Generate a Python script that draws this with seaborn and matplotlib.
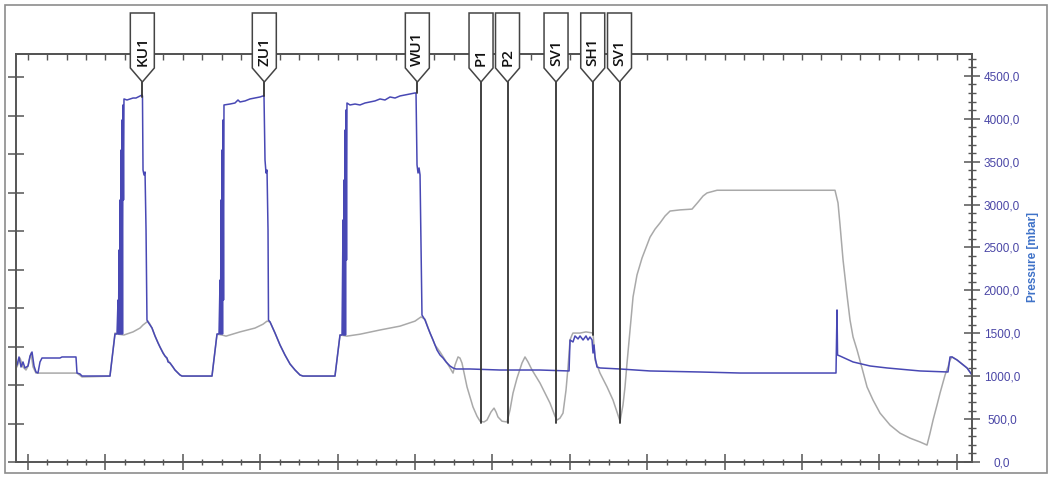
import numpy as np
import pandas as pd
import matplotlib
matplotlib.use("Agg")
import matplotlib.pyplot as plt
import matplotlib.transforms as mtransforms
from matplotlib.patches import Polygon, Rectangle
from matplotlib.ticker import FixedLocator, FuncFormatter
import seaborn as sns

# ---------------- data (time in minutes) ----------------
blue_t = [-0.142, -0.116, -0.090, -0.065, -0.039, 0.000, 0.026, 0.052, 0.078, 0.103, 0.129, 0.155, 0.181,
          0.284, 0.413, 0.439, 0.620, 0.633, 0.672, 0.698, 1.034, 1.059, 1.124, 1.150,
          1.163, 1.169, 1.176, 1.182, 1.189, 1.195, 1.202, 1.208, 1.214, 1.221, 1.227, 1.234, 1.240,
          1.279, 1.318, 1.357, 1.395, 1.421, 1.447, 1.473, 1.479, 1.486, 1.499, 1.512, 1.525, 1.537,
          1.550, 1.576, 1.602, 1.641, 1.680, 1.705, 1.744, 1.770, 1.796, 1.809, 1.835, 1.873, 1.899,
          1.925, 1.964, 1.990, 2.351, 2.377, 2.442, 2.468,
          2.481, 2.487, 2.494, 2.500, 2.506, 2.513, 2.519, 2.526, 2.532,
          2.610, 2.674, 2.713, 2.739, 2.804, 2.868, 2.933, 2.997, 3.036, 3.049, 3.062, 3.075, 3.088,
          3.101, 3.107, 3.127, 3.191, 3.256, 3.320, 3.385, 3.450, 3.514, 3.553, 3.941, 3.966, 4.031, 4.057,
          4.070, 4.076, 4.083, 4.089, 4.096, 4.102, 4.109, 4.115, 4.121,
          4.160, 4.225, 4.289, 4.354, 4.419, 4.483, 4.548, 4.612, 4.677, 4.742, 4.806, 4.871, 4.935,
          5.000, 5.013, 5.026, 5.039, 5.052, 5.065, 5.078, 5.090, 5.129, 5.168, 5.194, 5.233, 5.284,
          5.323, 5.362, 5.401, 5.452, 5.491, 5.530, 5.711, 6.098, 6.615, 6.990, 7.003, 7.041, 7.067,
          7.106, 7.132, 7.171, 7.209, 7.235, 7.261, 7.287, 7.300, 7.313, 7.326, 7.351, 7.390, 7.649,
          8.036, 8.682, 9.199, 9.974, 10.439, 10.452, 10.459, 10.491, 10.659, 10.879, 11.098, 11.525,
          11.886, 11.912, 11.938, 12.003, 12.067, 12.132, 12.196]
blue_p = [1130, 1224, 1107, 1166, 1096, 1119, 1235, 1282, 1119, 1049, 1037, 1166, 1212,
          1212, 1212, 1224, 1224, 1037, 1026, 1002, 1002, 1002, 1492, 1492,
          1888, 1492, 2471, 1492, 3054, 1492, 3636, 1492, 3986, 1492, 4161, 3054, 4231,
          4219, 4231, 4242, 4242, 4254, 4266, 4277, 4266, 3403, 3345, 3380, 2704, 1655,
          1632, 1597, 1562, 1469, 1387, 1340, 1270, 1235, 1212, 1166, 1154, 1107, 1072,
          1049, 1014, 1002, 1002, 1002, 1492, 1492,
          2121, 1492, 3054, 1492, 3636, 1492, 3986, 1888, 4161,
          4172, 4184, 4219, 4196, 4208, 4231, 4242, 4254, 4266, 4266, 3520, 3368, 3403,
          2704, 1655, 1632, 1504, 1364, 1247, 1142, 1072, 1014, 1002, 1002, 1002, 1480, 1480,
          2821, 1480, 3287, 1480, 3869, 1480, 4103, 2354, 4184,
          4161, 4172, 4161, 4184, 4196, 4208, 4231, 4219, 4254, 4242, 4266, 4277, 4289,
          4301, 4301, 3462, 3368, 3427, 3345, 2471, 1713, 1655, 1562, 1504, 1422, 1305,
          1247, 1212, 1166, 1119, 1096, 1084, 1084, 1072, 1072, 1061, 1422, 1399, 1469,
          1434, 1469, 1422, 1469, 1422, 1457, 1422, 1270, 1364, 1224, 1107, 1096, 1084,
          1061, 1049, 1037, 1037, 1037, 1772, 1247, 1235, 1166, 1119, 1096, 1061,
          1049, 1224, 1224, 1189, 1142, 1096, 1014]

gray_t = [-0.142, -0.103, -0.065, -0.026, 0.000, 0.039, 0.065, 0.103, 0.155, 0.413, 0.633, 0.698,
          1.059, 1.124, 1.163, 1.240, 1.357, 1.447, 1.486, 1.550, 1.576, 1.602, 1.641, 1.705, 1.770,
          1.835, 1.899, 1.964, 1.990, 2.377, 2.442, 2.506, 2.558, 2.739, 2.933, 3.036, 3.088, 3.127,
          3.191, 3.256, 3.320, 3.385, 3.450, 3.514, 3.553, 3.966, 4.031, 4.121, 4.289, 4.548, 4.806,
          5.000, 5.078, 5.129, 5.194, 5.258, 5.323, 5.388, 5.439, 5.491, 5.517, 5.556, 5.581, 5.607,
          5.672, 5.749, 5.801, 5.840, 5.891, 5.930, 5.982, 6.021, 6.047, 6.072, 6.124, 6.189, 6.227,
          6.266, 6.318, 6.382, 6.421, 6.460, 6.512, 6.615, 6.744, 6.809, 6.835, 6.873, 6.912, 6.951,
          6.977, 7.003, 7.028, 7.041, 7.132, 7.209, 7.300, 7.326, 7.390, 7.481, 7.558, 7.610, 7.649,
          7.687, 7.713, 7.739, 7.778, 7.817, 7.868, 7.933, 8.036, 8.101, 8.165, 8.230, 8.295, 8.424,
          8.579, 8.656, 8.721, 8.773, 8.902, 9.457, 9.974, 10.426, 10.465, 10.491, 10.530, 10.581,
          10.620, 10.659, 10.711, 10.775, 10.840, 10.917, 11.008, 11.137, 11.266, 11.395, 11.525,
          11.615, 11.654, 11.693, 11.744, 11.783, 11.848, 11.886, 11.912, 11.938, 12.003, 12.067,
          12.132, 12.196]
gray_v = [2.47, 2.70, 2.47, 2.39, 2.49, 2.83, 2.47, 2.31, 2.31, 2.31, 2.31, 2.21,
          2.23, 3.35, 3.32, 3.30, 3.38, 3.48, 3.56, 3.66, 3.58, 3.48, 3.27, 2.99, 2.75,
          2.57, 2.39, 2.26, 2.23, 2.23, 3.32, 3.30, 3.27, 3.38, 3.48, 3.58, 3.66, 3.64,
          3.35, 3.04, 2.78, 2.55, 2.39, 2.26, 2.23, 2.23, 3.30, 3.27, 3.32, 3.43, 3.53,
          3.66, 3.77, 3.71, 3.35, 3.04, 2.86, 2.65, 2.49, 2.31, 2.52, 2.73, 2.70, 2.57,
          1.95, 1.43, 1.19, 1.06, 1.04, 1.09, 1.30, 1.40, 1.30, 1.17, 1.06, 1.04, 1.35,
          1.79, 2.18, 2.57, 2.73, 2.60, 2.39, 2.05, 1.53, 1.19, 1.09, 1.14, 1.27, 1.87,
          2.47, 3.17, 3.30, 3.35, 3.35, 3.38, 3.35, 2.65, 2.31, 1.95, 1.61, 1.30, 1.06,
          1.48, 1.95, 2.57, 3.43, 4.29, 4.86, 5.30, 5.84, 6.05, 6.21, 6.39, 6.52, 6.55,
          6.57, 6.75, 6.91, 6.99, 7.06, 7.06, 7.06, 7.06, 6.73, 6.16, 5.25, 4.34,
          3.69, 3.25, 2.91, 2.44, 1.95, 1.61, 1.27, 0.96, 0.75, 0.62, 0.52,
          0.44, 0.75, 1.09, 1.48, 1.79, 2.26, 2.47, 2.65, 2.73, 2.65, 2.55,
          2.44, 2.26]

marker_names = ["KU1", "ZU1", "WU1", "P1", "P2", "SV1", "SH1", "SV1"]
marker_t = [1.477, 3.053, 5.030, 5.853, 6.195, 6.822, 7.296, 7.642]
marker_end_p = [4254, 4266, 4301, 455, 455, 455, 1480, 455]

pressure_ticks = [0, 500, 1000, 1500, 2000, 2500, 3000, 3500, 4000, 4500]

# ---------------- figure ----------------
sns.set_theme(style="white")
plt.rcParams["font.family"] = ["Liberation Sans", "DejaVu Sans"]

fig = plt.figure(figsize=(10.54, 4.79), dpi=100)
fig.patch.set_facecolor("white")
ax = fig.add_axes([16 / 1054, 1 - 462 / 479, (972 - 16) / 1054, (462 - 54) / 479])
ax2 = ax.twinx()

XLIM = (-0.155, 12.196)
PTOP = 4755
GTOP = 10.6

gray_df = pd.DataFrame({"t": gray_t, "v": gray_v})
blue_df = pd.DataFrame({"t": blue_t, "p": blue_p})

sns.lineplot(data=gray_df, x="t", y="v", ax=ax, color="#a9a9a9", linewidth=1.1,
             sort=False, estimator=None, legend=False)
sns.lineplot(data=blue_df, x="t", y="p", ax=ax2, color="#4848b4", linewidth=1.1,
             sort=False, estimator=None, legend=False)

ax.set_xlim(*XLIM)
ax.set_ylim(0, GTOP)
ax2.set_ylim(0, PTOP)
ax2.set_xlim(*XLIM)
for a in (ax, ax2):
    a.set_xlabel("")
    a.set_ylabel("")

spine_col = "#555555"
for a in (ax, ax2):
    for s in a.spines.values():
        s.set_color(spine_col)
        s.set_linewidth(1.2)

# x ticks (bottom)
ax.xaxis.set_major_locator(FixedLocator(np.arange(0, 13, 1)))
ax.xaxis.set_minor_locator(FixedLocator(np.arange(-0.0, 12.2, 0.25)))
ax.tick_params(axis="x", which="major", direction="inout", length=11, width=1.1,
               color=spine_col, bottom=True, labelbottom=False)
ax.tick_params(axis="x", which="minor", direction="inout", length=5, width=1.0,
               color=spine_col, bottom=True)
# top ticks
sec = ax.secondary_xaxis("top")
sec.xaxis.set_major_locator(FixedLocator(np.arange(0, 12.2, 0.25)))
sec.tick_params(axis="x", direction="in", length=4, width=1.0, color=spine_col, labeltop=False)
sec.spines["top"].set_color(spine_col)
sec.spines["top"].set_linewidth(1.2)

# left ticks
ax.yaxis.set_major_locator(FixedLocator(np.arange(0, 11, 1)))
ax.tick_params(axis="y", which="major", direction="inout", length=12, width=1.1,
               color=spine_col, left=True, labelleft=False)

# right ticks
ax2.yaxis.set_major_locator(FixedLocator(pressure_ticks))
ax2.yaxis.set_minor_locator(FixedLocator(np.arange(0, 4701, 100)))
ax2.yaxis.set_major_formatter(FuncFormatter(lambda v, p: f"{v:.1f}".replace(".", ",")))
ax2.tick_params(axis="y", which="major", direction="inout", length=12, width=1.1,
                color=spine_col, right=True, labelright=True, labelsize=8.5,
                labelcolor="#4a46a6", pad=15.5)
ax2.tick_params(axis="y", which="minor", direction="inout", length=6, width=1.0,
                color=spine_col, right=True)
for lbl in ax2.get_yticklabels():
    lbl.set_horizontalalignment("center")

fig.text(1033 / 1054, 1 - 257 / 479, "Pressure [mbar]", rotation=90, ha="center", va="center",
         fontsize=8.5, color="#3f72c8", fontweight="bold")

# ---------------- event markers ----------------
blend = mtransforms.blended_transform_factory(ax2.transData, ax2.transAxes)
half_w = 0.155
f_top, f_rect, f_tip, f_text = 1.1005, 0.9657, 0.9314, 0.9706
for name, xt, pend in zip(marker_names, marker_t, marker_end_p):
    ax2.axvline(xt, ymin=pend / PTOP, ymax=f_tip, color="#333333", linewidth=1.3, zorder=5)
    poly = Polygon([(xt - half_w, f_top), (xt + half_w, f_top), (xt + half_w, f_rect),
                    (xt, f_tip), (xt - half_w, f_rect)], closed=True, transform=blend,
                   facecolor="white", edgecolor="#444444", linewidth=1.1, clip_on=False, zorder=6)
    ax2.add_patch(poly)
    ax2.text(xt, f_text, name, transform=blend, rotation=90, rotation_mode="anchor",
             ha="left", va="center", fontsize=11, family=["Open Sans", "DejaVu Sans"],
             fontweight="semibold", color="#111111", clip_on=False, zorder=7)

# outer frame
fig.patches.append(Rectangle((5 / 1054, 1 - 473 / 479), 1042 / 1054, 468 / 479, fill=False,
                             edgecolor="#8c8c8c", linewidth=1.2, transform=fig.transFigure))

fig.savefig("out.png", dpi=100)
